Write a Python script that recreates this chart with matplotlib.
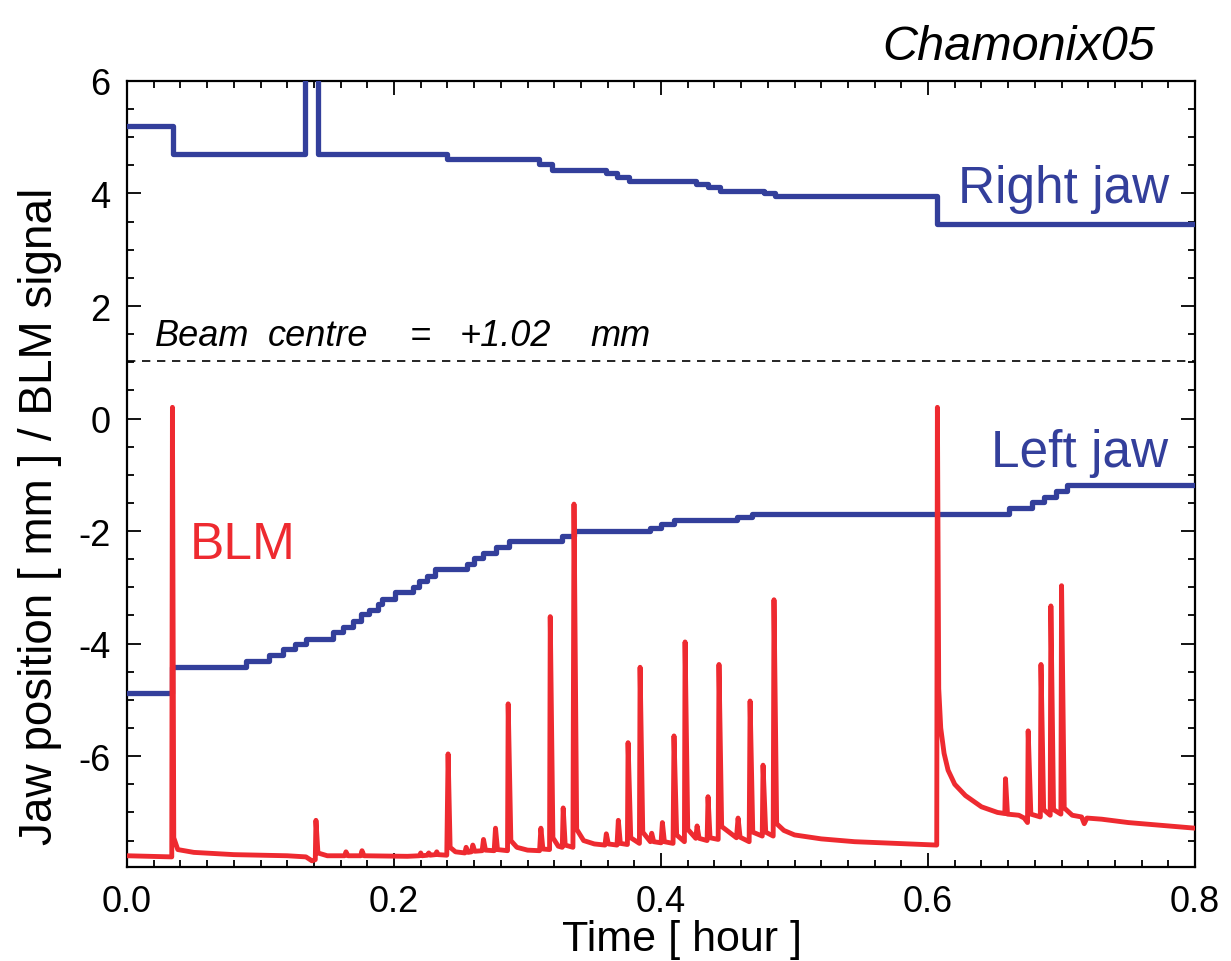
import matplotlib
matplotlib.use("Agg")
import matplotlib.pyplot as plt
from matplotlib.ticker import MultipleLocator, FixedLocator

plt.rcParams["font.family"] = ["Liberation Sans", "DejaVu Sans"]
plt.rcParams["axes.unicode_minus"] = False

BLUE = "#333f9b"
RED = "#ee2a30"

# right jaw position [mm] (step changes, time in hours)
right_t = [0.0, 0.0345, 0.1333, 0.1431, 0.2397, 0.3086, 0.3184, 0.3588, 0.367, 0.376,
           0.426, 0.435, 0.444, 0.477, 0.485, 0.607, 0.8]
right_v = [5.2, 4.7, 6.5, 4.7, 4.62, 4.52, 4.41, 4.36, 4.29, 4.23,
           4.16, 4.11, 4.05, 4.0, 3.95, 3.46, 3.46]

# left jaw position [mm]
left_t = [0.0, 0.034, 0.089, 0.106, 0.117, 0.126, 0.134, 0.154, 0.162, 0.169, 0.175,
          0.181, 0.188, 0.191, 0.201, 0.214, 0.219, 0.225, 0.231, 0.255, 0.260, 0.267,
          0.276, 0.286, 0.326, 0.335, 0.392, 0.400, 0.410, 0.457, 0.468, 0.661, 0.678,
          0.687, 0.696, 0.704, 0.8]
left_v = [-4.88, -4.41, -4.30, -4.20, -4.09, -4.0, -3.91, -3.80, -3.70, -3.59, -3.48,
          -3.40, -3.30, -3.20, -3.09, -3.0, -2.89, -2.79, -2.68, -2.59, -2.48, -2.39,
          -2.29, -2.18, -2.09, -2.0, -1.94, -1.88, -1.81, -1.75, -1.70, -1.59, -1.49,
          -1.39, -1.29, -1.18, -1.18]

# BLM signal trace
blm_t = [0.0, 0.0335, 0.0340, 0.0350, 0.038, 0.05, 0.08, 0.12, 0.134, 0.1385, 0.1410,
         0.1415, 0.1430, 0.150, 0.163, 0.1640, 0.1655, 0.175, 0.176, 0.1775, 0.21,
         0.219, 0.220, 0.221, 0.225, 0.226, 0.227, 0.231, 0.232, 0.233, 0.2395, 0.2405,
         0.2420, 0.246, 0.253, 0.254, 0.2555, 0.258, 0.259, 0.2605, 0.266, 0.267, 0.2685,
         0.275, 0.276, 0.2775, 0.285, 0.2855, 0.2875, 0.292, 0.300, 0.309, 0.310, 0.3115,
         0.3165, 0.3170, 0.3190, 0.323, 0.326, 0.3267, 0.3282, 0.334, 0.3348, 0.3368,
         0.342, 0.350, 0.358, 0.359, 0.3605, 0.367, 0.368, 0.3695, 0.3748, 0.3753, 0.3773,
         0.3838, 0.3843, 0.3863, 0.392, 0.393, 0.3945, 0.400, 0.401, 0.4025, 0.409,
         0.4097, 0.4117, 0.4175, 0.418, 0.420, 0.426, 0.427, 0.4285, 0.4345, 0.4352,
         0.4367, 0.4428, 0.4434, 0.4454, 0.4565, 0.4577, 0.4592, 0.466, 0.4667, 0.4687,
         0.4758, 0.4764, 0.4784, 0.4840, 0.4846, 0.4866, 0.492, 0.500, 0.520, 0.545,
         0.575, 0.6065, 0.6070, 0.6080, 0.6095, 0.612, 0.615, 0.620, 0.628, 0.640, 0.652,
         0.6575, 0.6580, 0.6595, 0.668, 0.672, 0.6745, 0.6750, 0.6770, 0.6841, 0.6846,
         0.6866, 0.6915, 0.6920, 0.6940, 0.6995, 0.7000, 0.7020, 0.708, 0.715, 0.717,
         0.719, 0.730, 0.750, 0.775, 0.800]
blm_v = [-7.77, -7.79, 0.2, -7.45, -7.66, -7.71, -7.75, -7.77, -7.79, -7.86, -7.84,
         -7.14, -7.72, -7.77, -7.77, -7.70, -7.77, -7.77, -7.68, -7.77, -7.78,
         -7.77, -7.72, -7.77, -7.76, -7.72, -7.76, -7.75, -7.70, -7.75, -7.76, -5.96,
         -7.62, -7.70, -7.72, -7.62, -7.71, -7.70, -7.58, -7.69, -7.68, -7.48, -7.67,
         -7.68, -7.28, -7.66, -7.68, -5.07, -7.50, -7.62, -7.67, -7.68, -7.28, -7.65,
         -7.66, -3.52, -7.45, -7.60, -7.62, -6.92, -7.58, -7.62, -1.52, -7.30,
         -7.50, -7.56, -7.58, -7.38, -7.56, -7.58, -7.14, -7.55, -7.57, -5.76, -7.45,
         -7.55, -4.42, -7.35, -7.52, -7.37, -7.52, -7.54, -7.18, -7.52, -7.55,
         -5.64, -7.40, -7.52, -3.97, -7.30, -7.46, -7.24, -7.46, -7.50, -6.72,
         -7.45, -7.48, -4.37, -7.25, -7.45, -7.10, -7.44, -7.52, -5.02, -7.35,
         -7.42, -6.16, -7.35, -7.42, -3.22, -7.20, -7.32, -7.40, -7.47, -7.52,
         -7.55, -7.58, 0.2, -4.8, -5.5, -5.95, -6.25, -6.50, -6.70, -6.90, -7.0,
         -7.02, -6.40, -7.03, -7.05, -7.10, -7.18, -5.55, -7.03, -7.08, -4.37,
         -6.95, -7.05, -3.33, -6.95, -7.03, -2.97, -6.92, -7.05, -7.08, -7.2,
         -7.10, -7.12, -7.18, -7.23, -7.28]

beam_centre = 1.02
# the beam-centre note is widely spaced in the original: one word at a time
note_words = ["Beam", "centre", "=", "+1.02", "mm"]
note_x = [0.021, 0.1056, 0.212, 0.2494, 0.3468]

fig = plt.figure(figsize=(12.31, 9.62), dpi=100)
ax = fig.add_axes([0.1032, 0.0977, 0.8676, 0.8171])

ax.plot(right_t, right_v, drawstyle="steps-post", color=BLUE, lw=3.8, zorder=3)
ax.plot(left_t, left_v, drawstyle="steps-post", color=BLUE, lw=3.8, zorder=3)
ax.plot(blm_t, blm_v, color=RED, lw=3.5, zorder=4, solid_joinstyle="round")
ax.axhline(beam_centre, color="black", lw=1.2, ls=(0, (5, 4)), zorder=2)

for w, x in zip(note_words, note_x):
    ax.text(x, 1.30, w, style="italic", fontsize=26)
ax.text(0.781, 3.84, "Right jaw", color=BLUE, fontsize=37, ha="right")
ax.text(0.780, -0.84, "Left jaw", color=BLUE, fontsize=37, ha="right")
ax.text(0.047, -2.48, "BLM", color=RED, fontsize=37)
fig.text(0.938, 0.9376, "Chamonix05", style="italic", fontsize=35, ha="right")

ax.set_xlim(0, 0.8)
ax.set_ylim(-7.97, 6)
ax.xaxis.set_major_locator(FixedLocator([0.0, 0.2, 0.4, 0.6, 0.8]))
ax.xaxis.set_minor_locator(MultipleLocator(0.02))
ax.yaxis.set_major_locator(FixedLocator([-6, -4, -2, 0, 2, 4, 6]))
ax.yaxis.set_minor_locator(MultipleLocator(0.5))
ax.set_xticklabels(["0.0", "0.2", "0.4", "0.6", "0.8"])
ax.tick_params(which="both", direction="in", top=True, right=True, width=1.3,
               labelsize=26)
ax.tick_params(which="major", length=10, pad=12)
ax.tick_params(which="minor", length=5)
for s in ax.spines.values():
    s.set_linewidth(1.6)

ax.set_xlabel("Time [ hour ]", fontsize=31)
ax.set_ylabel("Jaw position [ mm ] / BLM signal", fontsize=33)
ax.xaxis.set_label_coords(0.52, -0.066)
ax.yaxis.set_label_coords(-0.061, 0.448)

fig.savefig("out.png", dpi=100, facecolor="white")
